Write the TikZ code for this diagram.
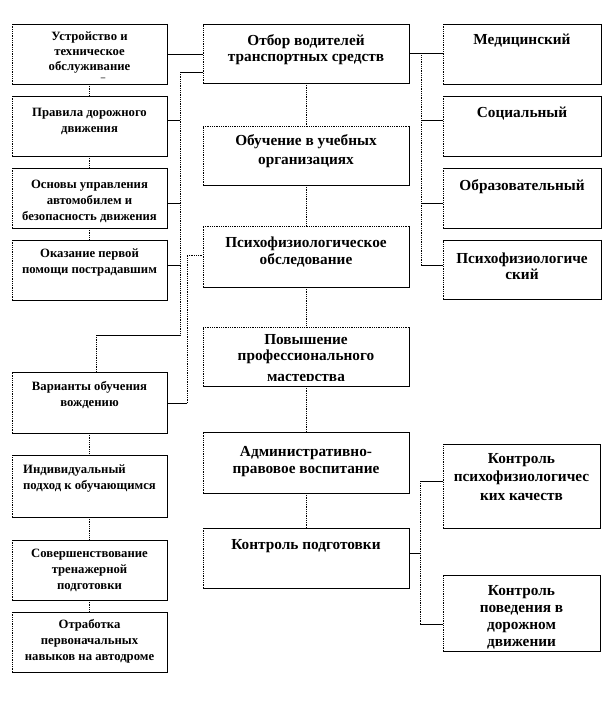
\documentclass[tikz,border=0pt]{standalone}
\usepackage{fontspec}
\setmainfont{Liberation Serif}
\usetikzlibrary{fit}
\tikzset{
 box/.style={inner sep=0pt, outer sep=0pt, fill=white},
 solidedge/.style={line width=0.8pt, black},
 dotedge/.style={line width=0.8pt, black, densely dotted},
 conn/.style={line width=0.8pt, black},
 dconn/.style={line width=0.8pt, black, densely dotted},
 bigtxt/.style={font=\bfseries\fontsize{15.3}{16.5}\selectfont},
 smalltxt/.style={font=\bfseries\fontsize{12.7}{16}\selectfont},
 lbl/.style={anchor=north, align=center, inner sep=0pt},
}
\def\clipinset{0pt}
% #1 name, #2 x1, #3 y1, #4 x2, #5 y2, #6 top edge style, #7 text style, #8 gap, #9 text
\newcommand\mybox[9]{%
 \node[box, fit={(#2,#3) (#4,#5)}] (#1) {};
 \draw[dotedge] (#1.south west) -- (#1.north west);
 \draw[#6] (#1.north west) -- (#1.north east);
 \draw[solidedge] (#1.north east) -- (#1.south east) -- (#1.south west);
 \begin{scope}
 \clip ([yshift=\clipinset]#1.south west) rectangle (#1.north east);
 \node[lbl, #7] (#1-t) at ([yshift=-#8pt]#1.north) {\strut #9};
 \end{scope}
}
\begin{document}
\begin{tikzpicture}[x=1pt,y=-1pt]
\fill[white] (0,0) rectangle (612,708);
\useasboundingbox (0,0) rectangle (612,708);

% left column
\mybox{u}{12}{24}{167}{84}{solidedge}{font=\bfseries\fontsize{12.7}{15}\selectfont}{6}{Устройство и\\техническое\\обслуживание}
\node[inner sep=0pt, font=\bfseries\fontsize{9}{10}\selectfont] (u-d) at (103,79.5) {–};
\mybox{p}{12}{96}{167}{156}{solidedge}{smalltxt}{9}{Правила дорожного\\движения}
\mybox{os}{12}{168}{167}{228}{solidedge}{smalltxt}{9}{Основы управления\\автомобилем и\\безопасность движения}
\mybox{ok}{12}{240}{167}{300}{solidedge}{smalltxt}{6}{Оказание первой\\помощи пострадавшим}
\mybox{v}{12}{372}{167}{433}{solidedge}{smalltxt}{7}{Варианты обучения\\вождению}
\mybox{ind}{12}{455}{167}{517}{solidedge}{smalltxt,align=left}{7}{Индивидуальный\\подход к обучающимся}
\mybox{sov}{12}{540}{167}{600}{solidedge}{smalltxt}{6}{Совершенствование\\тренажерной\\подготовки}
\mybox{otr}{12}{612}{167}{672}{solidedge}{smalltxt}{5}{Отработка\\первоначальных\\навыков на автодроме}

% centre column
\mybox{o}{203}{24}{409}{83}{solidedge}{bigtxt}{9.5}{Отбор водителей\\транспортных средств}
\mybox{ob}{203}{126}{409}{185}{dotedge}{font=\bfseries\fontsize{15.3}{19}\selectfont}{6.5}{Обучение в учебных\\организациях}
\mybox{ps}{203}{226}{409}{287}{dotedge}{bigtxt}{10}{Психофизиологическое\\обследование}
\def\clipinset{6pt}
\mybox{pov}{203}{327}{409}{386}{dotedge}{bigtxt}{5.5}{Повышение\\профессионального\\[4pt]мастерства}
\def\clipinset{0pt}
\mybox{adm}{203}{432}{409}{493}{solidedge}{bigtxt}{13}{Административно-\\правовое воспитание}
\mybox{kp}{203}{528}{409}{588}{solidedge}{bigtxt}{9.5}{Контроль подготовки}

% right column
\mybox{m}{443}{24}{601}{84}{solidedge}{bigtxt}{8.5}{Медицинский}
\mybox{soc}{443}{96}{601}{156}{solidedge}{bigtxt}{9.5}{Социальный}
\mybox{obr}{443}{168}{601}{228}{solidedge}{bigtxt}{10.5}{Образовательный}
\mybox{psr}{443}{240}{601}{299}{solidedge}{bigtxt}{11.5}{Психофизиологиче\\ский}
\mybox{kps}{443}{444}{600}{528}{solidedge}{font=\bfseries\fontsize{15.3}{18.5}\selectfont}{6}{Контроль\\психофизиологичес\\ких качеств}
\mybox{kpv}{443}{575}{600}{651}{solidedge}{font=\bfseries\fontsize{15.3}{17}\selectfont}{8.5}{Контроль\\поведения в\\дорожном\\движении}

% coordinates
\coordinate (yA) at (0,120);
\coordinate (yB) at (0,203);
\coordinate (yC) at (0,265);
\coordinate (a0) at (180,72);
\coordinate (a1) at (180,335);
\coordinate (a2) at (96,335);
\coordinate (b0) at (187,255);
\coordinate (b1) at (187,403);
\coordinate (r0) at (421,53.5);
\coordinate (r3) at (421,265);
\coordinate (s0) at (420,481);
\coordinate (s1) at (420,624);
\coordinate (s2) at (420,553);

% vertical chains
\draw[dconn] (u) -- (p);
\draw[dconn] (p) -- (os);
\draw[dconn] (os) -- (ok);
\draw[dconn] (v) -- (ind);
\draw[dconn] (ind) -- (sov);
\draw[dconn] (sov) -- (otr);
\draw[dconn] (o) -- (ob);
\draw[dconn] (ob) -- (ps);
\draw[dconn] (ps) -- (pov);
\draw[dconn] (pov) -- (adm);
\draw[dconn] (adm) -- (kp);

% left bus A
\draw[conn] (u.east) -- (o.west |- u.east);
\draw[conn] (a0) -- (o.west |- a0);
\draw[dconn] (a0) -- (a1);
\draw[conn] (a1) -- (a2);
\draw[dconn] (a2) -- (v.north -| a2);
\draw[conn] (p.east |- yA) -- (a0 |- yA);
\draw[conn] (os.east |- yB) -- (a0 |- yB);
\draw[conn] (ok.east |- yC) -- (a0 |- yC);

% left bus B
\draw[conn] (v.east |- b1) -- (b1);
\draw[dconn] (b1) -- (b0);
\draw[dconn] (b0) -- (ps.west |- b0);

% right bus top
\draw[conn] (o.east) -- (m.west |- o.east);
\draw[dconn] (r0) -- (r3);
\draw[conn] (r0 |- yA) -- (soc.west |- yA);
\draw[conn] (r0 |- yB) -- (obr.west |- yB);
\draw[conn] (r0 |- yC) -- (psr.west |- yC);

% right bus bottom
\draw[conn] (kp.east |- s2) -- (s2);
\draw[dconn] (s0) -- (s1);
\draw[conn] (s0) -- (kps.west |- s0);
\draw[conn] (s1) -- (kpv.west |- s1);
\end{tikzpicture}
\end{document}
